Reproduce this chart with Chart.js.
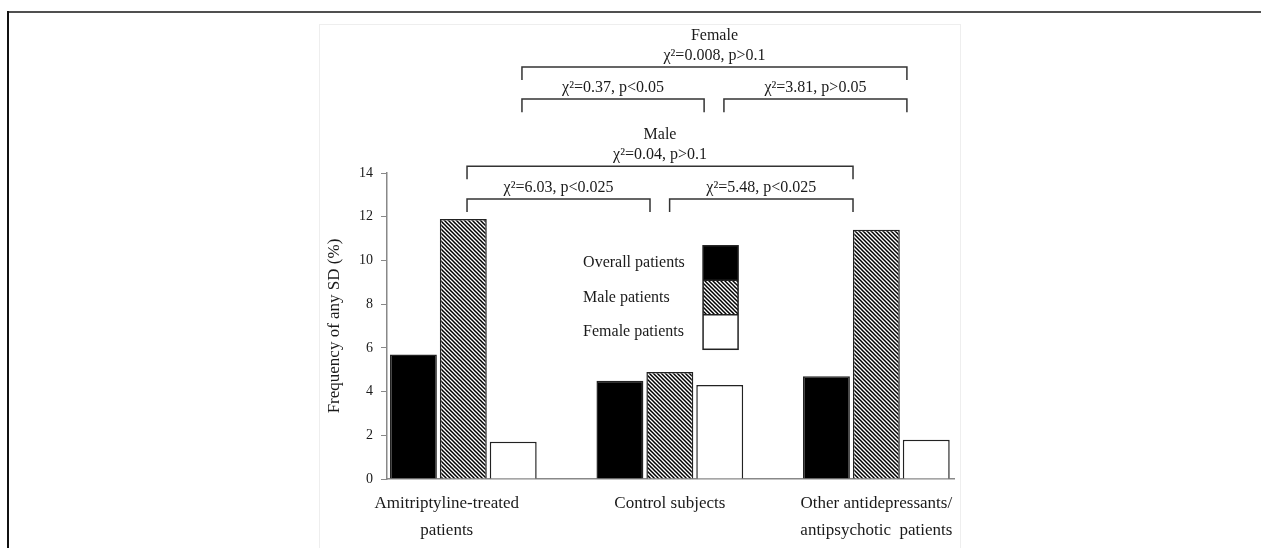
<!DOCTYPE html>
<html lang="en">
<head>
    <meta charset="UTF-8">
    <title>Frequency of any SD</title>
    <script src="https://cdn.jsdelivr.net/npm/chart.js"></script>
    <style>
        html, body { margin: 0; padding: 0; background: #fff; }
        body { width: 1261px; height: 548px; position: relative; overflow: hidden; }
        #topLine { position: absolute; left: 7px; top: 11px; width: 1254px; height: 2px; background: #505050; }
        #leftLine { position: absolute; left: 7px; top: 11px; width: 2px; height: 537px; background: #111; }
        #figBox { position: absolute; left: 319px; top: 24px; width: 640px; height: 540px; border: 1px solid #eeeeee; }
        #chart { position: absolute; left: 0; top: 0; }
    </style>
</head>
<body>
    <div id="topLine"></div>
    <div id="leftLine"></div>
    <div id="figBox"></div>
    <canvas id="chart" width="1261" height="548"></canvas>

    <script>
        // data
        const categories = [
            ['Amitriptyline-treated', 'patients'],
            ['Control subjects'],
            ['Other antidepressants/', 'antipsychotic  patients']
        ];
        const labelPos = [-0.08, 1, 2];   // where each category label sits on the x axis
        const seriesNames = ['Overall patients', 'Male patients', 'Female patients'];
        const overall = [5.7, 4.5, 4.7];
        const male = [11.9, 4.9, 11.4];
        const female = [1.7, 4.3, 1.8];
        const yTicks = [0, 2, 4, 6, 8, 10, 12, 14];

        // chi-square brackets (x in category units, y in % units)
        const bracketFrom = [0.018, 0.999, 0.018, 0.284, 1.262, 0.284];
        const bracketTo = [0.904, 1.887, 1.887, 1.166, 2.148, 2.148];
        const bracketY = [12.81, 12.81, 14.31, 17.38, 17.38, 18.85];
        const bracketText = ['χ²=6.03, p<0.025', 'χ²=5.48, p<0.025', 'χ²=0.04, p>0.1',
                             'χ²=0.37, p<0.05', 'χ²=3.81, p>0.05', 'χ²=0.008, p>0.1'];
        const bracketHead = ['', '', 'Male', '', '', 'Female'];

        const SERIF = "'Liberation Serif', 'Times New Roman', serif";
        Chart.defaults.font.family = SERIF;
        Chart.defaults.color = '#1a1a1a';

        function hatch() {
            const c = document.createElement('canvas');
            c.width = 4; c.height = 4;
            const g = c.getContext('2d');
            g.fillStyle = '#fff';
            g.fillRect(0, 0, 4, 4);
            g.strokeStyle = '#000';
            g.lineWidth = 1.5;
            g.beginPath();
            g.moveTo(-1, -1); g.lineTo(5, 5);
            g.moveTo(3, -1); g.lineTo(5, 1);
            g.moveTo(-1, 3); g.lineTo(1, 5);
            g.stroke();
            return g.createPattern(c, 'repeat');
        }
        const hatchFill = hatch();
        const fills = ['#000', hatchFill, '#fff'];

        const toPoints = arr => arr.map((v, i) => ({ x: i, y: v }));

        const bracketPlugin = {
            id: 'brackets',
            afterDatasetsDraw(chart) {
                const { ctx, scales: { x, y } } = chart;
                ctx.save();
                ctx.strokeStyle = '#333';
                ctx.lineWidth = 1.5;
                ctx.fillStyle = '#1a1a1a';
                ctx.font = '16px ' + SERIF;
                ctx.textAlign = 'center';
                ctx.textBaseline = 'middle';
                for (let i = 0; i < bracketY.length; i++) {
                    const x0 = x.getPixelForValue(bracketFrom[i]);
                    const x1 = x.getPixelForValue(bracketTo[i]);
                    const yl = y.getPixelForValue(bracketY[i]);
                    const yd = y.getPixelForValue(bracketY[i] - 0.6);
                    ctx.beginPath();
                    ctx.moveTo(x0, yd); ctx.lineTo(x0, yl); ctx.lineTo(x1, yl); ctx.lineTo(x1, yd);
                    ctx.stroke();
                    const cx = (x0 + x1) / 2;
                    ctx.fillText(bracketText[i], cx, y.getPixelForValue(bracketY[i] + 0.5));
                    if (bracketHead[i]) {
                        ctx.fillText(bracketHead[i], cx, y.getPixelForValue(bracketY[i] + 1.43));
                    }
                }

                // legend: labels on the left, stacked swatches on the right
                const lx = x.getPixelForValue(1.161);
                const ly = y.getPixelForValue(10.67);
                const w = 35, h = 34.5;
                ctx.textAlign = 'left';
                chart.data.datasets.forEach((ds, i) => {
                    ctx.fillStyle = ds.backgroundColor;
                    ctx.fillRect(lx, ly + i * h, w, h);
                    ctx.fillStyle = '#1a1a1a';
                    ctx.fillText(ds.label, lx - 120, ly + i * h + h / 2);
                });
                ctx.strokeStyle = '#222';
                ctx.lineWidth = 1.5;
                ctx.strokeRect(lx, ly, w, h * 3);
                ctx.beginPath();
                ctx.moveTo(lx, ly + h); ctx.lineTo(lx + w, ly + h);
                ctx.moveTo(lx, ly + 2 * h); ctx.lineTo(lx + w, ly + 2 * h);
                ctx.stroke();
                ctx.restore();
            }
        };

        const ctx = document.getElementById('chart').getContext('2d');
        new Chart(ctx, {
            type: 'bar',
            data: {
                datasets: [overall, male, female].map((d, i) => ({
                    label: seriesNames[i],
                    data: toPoints(d),
                    backgroundColor: fills[i],
                    borderColor: '#222',
                    borderWidth: 1.5,
                    categoryPercentage: 0.725,
                    barPercentage: 0.94
                }))
            },
            options: {
                responsive: false,
                animation: false,
                layout: { padding: { left: 310, right: 307, top: 173, bottom: 0 } },
                plugins: { legend: { display: false }, tooltip: { enabled: false } },
                scales: {
                    x: {
                        type: 'linear',
                        offset: false,
                        min: -0.3695,
                        max: 2.376,
                        afterFit: s => { s.height = 69; },
                        afterBuildTicks: s => { s.ticks = labelPos.map(v => ({ value: v })); },
                        grid: { display: false },
                        border: { display: true, color: '#888', width: 1.5 },
                        ticks: {
                            autoSkip: false,
                            maxRotation: 0,
                            padding: 3,
                            font: { size: 17, lineHeight: 1.6 },
                            callback: (v, i) => categories[i]
                        }
                    },
                    y: {
                        min: 0,
                        max: 14,
                        afterFit: s => { s.width = 77; },
                        afterBuildTicks: s => { s.ticks = yTicks.map(v => ({ value: v })); },
                        grid: { display: true, drawOnChartArea: false, drawTicks: true, tickLength: 6, color: '#888' },
                        border: { display: true, color: '#888', width: 1.5 },
                        ticks: { padding: 8, font: { size: 14 } },
                        title: {
                            display: true,
                            text: 'Frequency of any SD (%)',
                            font: { size: 17 },
                            padding: { top: 14, bottom: 0 }
                        }
                    }
                }
            },
            plugins: [bracketPlugin]
        });
    </script>
</body>
</html>
